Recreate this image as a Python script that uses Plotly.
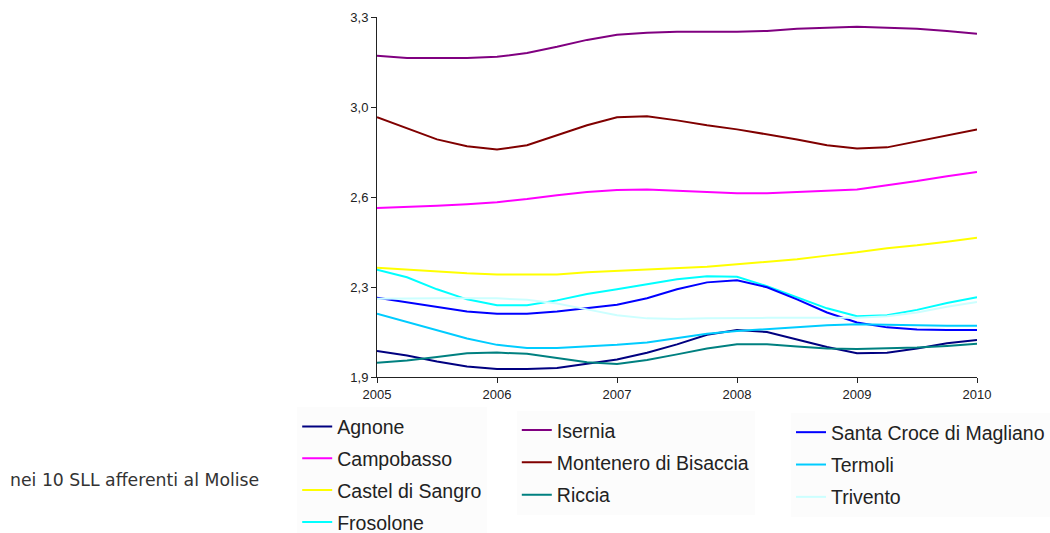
import plotly.graph_objects as go

# Quarterly time points, 2005 to 2010
periods = [2005 + 0.25 * i for i in range(21)]

agnone = [2.001, 1.984, 1.960, 1.941, 1.931, 1.931, 1.935, 1.951, 1.968, 1.994, 2.027,
          2.064, 2.083, 2.075, 2.046, 2.017, 1.992, 1.994, 2.011, 2.031, 2.044]
campobasso = [2.557, 2.561, 2.566, 2.572, 2.580, 2.592, 2.607, 2.619, 2.627, 2.629, 2.623,
              2.619, 2.615, 2.615, 2.619, 2.623, 2.629, 2.646, 2.662, 2.681, 2.697]
castel_di_sangro = [2.325, 2.317, 2.309, 2.303, 2.299, 2.298, 2.299, 2.307, 2.313, 2.317, 2.323,
                    2.329, 2.338, 2.348, 2.358, 2.372, 2.385, 2.401, 2.412, 2.426, 2.442]
frosolone = [2.317, 2.288, 2.241, 2.202, 2.179, 2.179, 2.198, 2.223, 2.241, 2.260, 2.280,
             2.292, 2.290, 2.253, 2.210, 2.167, 2.136, 2.140, 2.161, 2.188, 2.210]
isernia = [3.149, 3.141, 3.141, 3.141, 3.145, 3.160, 3.184, 3.211, 3.231, 3.239, 3.243,
           3.243, 3.243, 3.246, 3.254, 3.258, 3.262, 3.258, 3.254, 3.246, 3.235]
montenero = [2.910, 2.867, 2.824, 2.797, 2.785, 2.801, 2.840, 2.879, 2.910, 2.914, 2.898,
             2.879, 2.863, 2.844, 2.824, 2.801, 2.789, 2.793, 2.816, 2.840, 2.863]
riccia = [1.955, 1.964, 1.978, 1.992, 1.995, 1.990, 1.974, 1.957, 1.951, 1.966, 1.988,
          2.011, 2.027, 2.027, 2.019, 2.011, 2.009, 2.011, 2.015, 2.021, 2.029]
santa_croce = [2.208, 2.190, 2.173, 2.155, 2.146, 2.146, 2.155, 2.167, 2.181, 2.206, 2.241,
               2.268, 2.276, 2.249, 2.202, 2.151, 2.112, 2.093, 2.085, 2.083, 2.083]
termoli = [2.146, 2.114, 2.083, 2.050, 2.025, 2.013, 2.013, 2.019, 2.025, 2.034, 2.050,
           2.068, 2.079, 2.087, 2.095, 2.101, 2.105, 2.103, 2.099, 2.099, 2.099]
trivento = [2.204, 2.206, 2.206, 2.206, 2.206, 2.200, 2.186, 2.163, 2.140, 2.128, 2.126,
            2.128, 2.130, 2.130, 2.130, 2.130, 2.130, 2.136, 2.151, 2.173, 2.192]

y_tickvals = [1.9, 2.25, 2.6, 2.95, 3.3]
y_ticktext = ["1,9", "2,3", "2,6", "3,0", "3,3"]
x_tickvals = [2005, 2006, 2007, 2008, 2009, 2010]

# (name, values, colour, legend column)
series = [
    ("Agnone", agnone, "#000080", "legend"),
    ("Campobasso", campobasso, "#FF00FF", "legend"),
    ("Castel di Sangro", castel_di_sangro, "#FFFF00", "legend"),
    ("Frosolone", frosolone, "#00FFFF", "legend"),
    ("Isernia", isernia, "#800080", "legend2"),
    ("Montenero di Bisaccia", montenero, "#800000", "legend2"),
    ("Riccia", riccia, "#008080", "legend2"),
    ("Santa Croce di Magliano", santa_croce, "#0000FF", "legend3"),
    ("Termoli", termoli, "#00CCFF", "legend3"),
    ("Trivento", trivento, "#CCFFFF", "legend3"),
]

fig = go.Figure()
for name, vals, color, leg in series:
    fig.add_trace(go.Scatter(
        x=periods, y=vals, name=name, mode="lines",
        line=dict(color=color, width=2),
        legend=leg, legendgroup=name,
    ))

legend_font = dict(family="Liberation Sans, Arial, sans-serif", size=19.5, color="#222222")
legend_common = dict(
    orientation="v", xanchor="left", yanchor="top",
    bgcolor="#fcfcfc", borderwidth=0, font=legend_font,
    traceorder="grouped", itemwidth=30,
)

fig.update_layout(
    width=1050, height=533,
    margin=dict(l=377, r=73, t=17, b=156, autoexpand=False),
    paper_bgcolor="white", plot_bgcolor="white",
    font=dict(family="Liberation Sans, Arial, sans-serif", size=13, color="#222222"),
    xaxis=dict(
        range=[2005, 2010], tickvals=x_tickvals, ticktext=[str(v) for v in x_tickvals],
        showgrid=False, zeroline=False, showline=True, linecolor="#222222", linewidth=1,
        ticks="outside", ticklen=5, tickcolor="#222222",
    ),
    yaxis=dict(
        range=[1.9, 3.3], tickvals=y_tickvals, ticktext=y_ticktext,
        showgrid=False, zeroline=False, showline=True, linecolor="#222222", linewidth=1,
        ticks="outside", ticklen=5, tickcolor="#222222",
    ),
    legend=dict(x=-0.133, y=-0.084, tracegroupgap=3.5, **legend_common),
    legend2=dict(x=0.233, y=-0.094, tracegroupgap=4, **legend_common),
    legend3=dict(x=0.69, y=-0.1, tracegroupgap=4, **legend_common),
    annotations=[dict(
        text="nei 10 SLL afferenti al Molise", xref="paper", yref="paper",
        x=-0.615, y=-0.286, xanchor="left", yanchor="middle", showarrow=False,
        font=dict(family="DejaVu Sans, sans-serif", size=17.3, color="#333333"),
    )],
)

fig.write_html("out.html")
